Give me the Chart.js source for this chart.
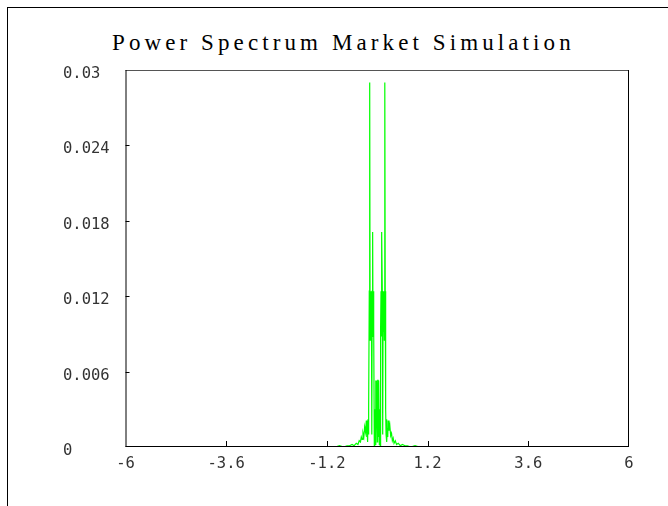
<!DOCTYPE html>
<html lang="en">
  <head>
    <meta charset="UTF-8" />
    <title>Power Spectrum Market Simulation</title>
    <script src="https://cdn.jsdelivr.net/npm/chart.js"></script>
    <style>
      body {
        margin: 0;
        background: #fff;
        width: 668px;
        height: 506px;
        overflow: hidden;
        position: relative;
      }
      .frame {
        position: absolute;
        left: 7px;
        top: 7px;
        width: 700px;
        height: 520px;
        border-left: 1px solid #000;
        border-top: 1px solid #000;
      }
      .title {
        position: absolute;
        left: 112px;
        top: 30px;
        font-family: "Liberation Serif", serif;
        font-size: 23px;
        letter-spacing: 4.1px;
        color: #000;
        white-space: nowrap;
      }
      #spectrumChart {
        position: absolute;
        left: 0;
        top: 0;
      }
    </style>
  </head>
  <body>
    <div class="frame"></div>
    <div class="title">Power Spectrum Market Simulation</div>
    <canvas id="spectrumChart" width="668" height="506"></canvas>

    <script>
      // frequency axis and power values
      const freqs = [
        -5.1, -4.0, -3.0, -2.0, -1.5, -1.0, -0.9, -0.8, -0.72, -0.66, -0.6,
        -0.55, -0.5, -0.46, -0.43, -0.4, -0.38, -0.36, -0.34, -0.32, -0.3,
        -0.28, -0.26, -0.25, -0.24, -0.23, -0.22, -0.21, -0.2, -0.19, -0.18,
        -0.17, -0.16, -0.15, -0.14, -0.13, -0.12, -0.11, -0.1, -0.09, -0.08,
        -0.07, -0.06, -0.05, -0.04, -0.03, -0.02, -0.01, 0, 0.01, 0.02, 0.03,
        0.04, 0.05, 0.06, 0.07, 0.08, 0.09, 0.1, 0.11, 0.12, 0.13, 0.14, 0.15,
        0.16, 0.17, 0.18, 0.19, 0.2, 0.21, 0.22, 0.23, 0.24, 0.25, 0.26, 0.28,
        0.3, 0.32, 0.34, 0.36, 0.38, 0.4, 0.43, 0.46, 0.5, 0.55, 0.6, 0.66,
        0.72, 0.8, 0.9, 1.0, 1.5, 2.0, 3.0, 4.0, 5.1,
      ];
      const power = [
        0, 0, 0, 0, 0, 0, 0.0001, 0, 0.0001, 0.0001, 0.0002,
        0.0001, 0.0003, 0.0002, 0.0005, 0.0004, 0.0008, 0.0006, 0.0011, 0.0008, 0.0016,
        0.0012, 0.0021, 0.0008, 0.0015, 0.0004, 0.0022, 0.001, 0.003, 0.0124, 0.029,
        0.0085, 0.0124, 0.0092, 0.0124, 0.001, 0.0124, 0.0171, 0.0088, 0.0124, 0.0095,
        0, 0.003, 0.0002, 0.0053, 0.001, 0.0053, 0.0053, 0.0004, 0.0053, 0.0053, 0.0008,
        0.0053, 0.0002, 0.003, 0, 0.0095, 0.0124, 0.0088, 0.0171, 0.0124, 0.001, 0.0124, 0.0092,
        0.0124, 0.0085, 0.029, 0.0124, 0.003, 0.001, 0.0022, 0.0004, 0.0015, 0.0008, 0.0021, 0.0013,
        0.0017, 0.0009, 0.0011, 0.0005, 0.0007, 0.0003, 0.0005, 0.0002, 0.0003, 0.0001, 0.0002, 0.0001,
        0.0001, 0, 0.0001, 0, 0, 0, 0, 0, 0,
      ];
      const xTicks = [-6, -3.6, -1.2, 1.2, 3.6, 6];
      const xTickLabels = ["-6", "-3.6", "-1.2", "1.2", "3.6", "6"];
      const yTicks = [0, 0.006, 0.012, 0.018, 0.024, 0.03];
      const yTickLabels = ["0", "0.006", "0.012", "0.018", "0.024", "0.03"];

      // plot box plus the short inward tick marks
      const plotFrame = {
        id: "plotFrame",
        afterDatasetsDraw(chart) {
          const { ctx, chartArea: a, scales } = chart;
          ctx.save();
          ctx.lineWidth = 1;
          ctx.strokeStyle = "#555";
          ctx.beginPath();
          ctx.moveTo(a.left, a.top + 0.5);
          ctx.lineTo(a.right, a.top + 0.5);
          ctx.stroke();
          ctx.strokeStyle = "#000";
          ctx.beginPath();
          ctx.moveTo(a.left + 0.5, a.top);
          ctx.lineTo(a.left + 0.5, a.bottom);
          ctx.moveTo(a.right - 0.5, a.top);
          ctx.lineTo(a.right - 0.5, a.bottom);
          ctx.moveTo(a.left, a.bottom - 0.5);
          ctx.lineTo(a.right, a.bottom - 0.5);
          xTicks.slice(1, -1).forEach((v) => {
            const px = Math.round(scales.x.getPixelForValue(v)) + 0.5;
            ctx.moveTo(px, a.bottom);
            ctx.lineTo(px, a.bottom - 6);
          });
          yTicks.slice(1, -1).forEach((v) => {
            const py = Math.round(scales.y.getPixelForValue(v)) + 0.5;
            ctx.moveTo(a.left, py);
            ctx.lineTo(a.left + 4, py);
          });
          ctx.stroke();
          ctx.restore();
        },
      };

      const tickFont = { family: "'DejaVu Sans Mono', monospace", size: 15.5 };

      new Chart(document.getElementById("spectrumChart"), {
        type: "scatter",
        data: {
          datasets: [
            {
              data: freqs.map((f, i) => ({ x: f, y: power[i] })),
              showLine: true,
              borderColor: "#00ff00",
              borderWidth: 1.2,
              pointRadius: 0,
              tension: 0,
            },
          ],
        },
        options: {
          responsive: false,
          animation: false,
          devicePixelRatio: 1,
          layout: { padding: { left: 63, top: 70, right: 39, bottom: 29 } },
          plugins: {
            legend: { display: false },
            tooltip: { enabled: false },
            title: { display: false },
          },
          scales: {
            x: {
              type: "linear",
              min: -6,
              max: 6,
              afterBuildTicks: (s) => {
                s.ticks = xTicks.map((v) => ({ value: v }));
              },
              afterFit: (s) => {
                s.height = 30;
              },
              grid: { display: false, drawTicks: false },
              border: { display: false },
              ticks: {
                padding: 8,
                color: "#333",
                font: tickFont,
                maxRotation: 0,
                autoSkip: false,
                callback: (v, i) => xTickLabels[i],
              },
            },
            y: {
              min: 0,
              max: 0.03,
              afterBuildTicks: (s) => {
                s.ticks = yTicks.map((v) => ({ value: v }));
              },
              afterFit: (s) => {
                s.width = 62.5;
              },
              grid: { display: false, drawTicks: false },
              border: { display: false },
              ticks: {
                crossAlign: "far",
                labelOffset: 4,
                color: "#333",
                font: tickFont,
                autoSkip: false,
                callback: (v, i) => yTickLabels[i],
              },
            },
          },
        },
        plugins: [plotFrame],
      });
    </script>
  </body>
</html>
